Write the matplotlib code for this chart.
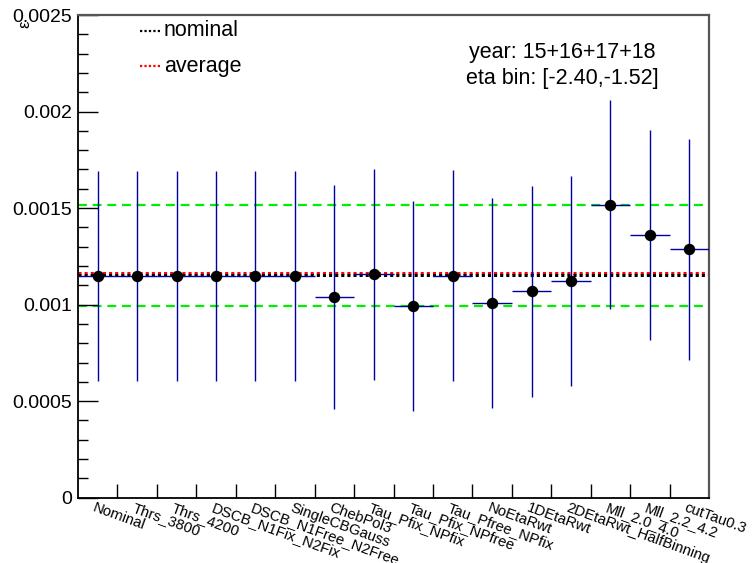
import matplotlib
matplotlib.use("Agg")
import matplotlib.pyplot as plt
import numpy as np
from matplotlib.ticker import MultipleLocator

plt.rcParams['font.family'] = ['Liberation Sans', 'DejaVu Sans']

categories = ["Nominal", "Thrs_3800", "Thrs_4200", "DSCB_N1Fix_N2Fix",
              "DSCB_N1Free_N2Free", "SingleCBGauss", "ChebPol3",
              "Tau_Pfix_NPfix", "Tau_Pfix_NPfree", "Tau_Pfree_NPfix",
              "NoEtaRwt", "1DEtaRwt", "2DEtaRwt_HalfBinning",
              "Mll_2.0_4.0", "Mll_2.2_4.2", "cutTau0.3"]
values = [0.001150, 0.001150, 0.001150, 0.001150, 0.001150, 0.001150,
          0.001038, 0.001158, 0.000994, 0.001150, 0.001008, 0.001068,
          0.001122, 0.001517, 0.001359, 0.001286]
errors = [0.000543, 0.000543, 0.000543, 0.000543, 0.000543, 0.000543,
          0.000580, 0.000546, 0.000545, 0.000546, 0.000544, 0.000544,
          0.000545, 0.000541, 0.000543, 0.000573]
nominal_value = 0.001152
average_value = 0.001162
max_value = 0.001517
min_value = 0.000994
ytick_values = [0, 0.0005, 0.001, 0.0015, 0.002, 0.0025]
ytick_labels = ["0", "0.0005", "0.001", "0.0015", "0.002", "0.0025"]
info_lines = ["year: 15+16+17+18", "eta bin: [-2.40,-1.52]"]
legend_labels = ["nominal", "average"]

W, H = 752, 563
fig = plt.figure(figsize=(W / 100, H / 100), dpi=100)
ax = fig.add_axes([78 / W, 1 - 497.7 / H, 631 / W, 482.7 / H])

n = len(categories)
centers = np.arange(n) + 0.5

# reference lines
ax.axhline(max_value, color='#00ee00', lw=1.6, ls=(0, (4, 2.6)), zorder=1)
ax.axhline(min_value, color='#00ee00', lw=1.6, ls=(0, (4, 2.6)), zorder=1)
ax.axhline(average_value, color='#ff0000', lw=2.2, ls=(0, (1, 1)), zorder=2)
ax.axhline(nominal_value, color='black', lw=2.2, ls=(0, (1, 1)), zorder=2)

ax.errorbar(centers, values, yerr=errors, xerr=0.5, fmt='none',
            ecolor='#0000a0', elinewidth=1.0, capsize=0, zorder=3)
ax.plot(centers, values, 'o', color='black', ms=7.2, zorder=4)

ax.set_xlim(0, n)
ax.set_ylim(0, 0.0025)

# ticks
ax.set_yticks(ytick_values)
ax.set_yticklabels(ytick_labels, fontsize=14)
ax.yaxis.set_minor_locator(MultipleLocator(0.0001))
ax.tick_params(axis='y', which='major', direction='in', length=14.4, width=1.0, pad=4)
ax.tick_params(axis='y', which='minor', direction='in', length=7.2, width=1.0)
ax.set_xticks(np.arange(1, n))
ax.set_xticklabels([])
ax.tick_params(axis='x', which='major', direction='in', length=10, width=1.0)
ax.tick_params(top=False, right=False)

for i, lab in enumerate(categories):
    ax.text(centers[i] - 0.05, -0.006, lab, transform=ax.get_xaxis_transform(),
            rotation=-20, rotation_mode='anchor', ha='left', va='top', fontsize=10.7)

for side in ['left', 'bottom']:
    ax.spines[side].set_color('black')
    ax.spines[side].set_linewidth(1.3)
for side in ['top', 'right']:
    ax.spines[side].set_color('#555555')
    ax.spines[side].set_linewidth(1.6)

# legend (manual)
ax.plot([0.098, 0.133], [0.967, 0.967], transform=ax.transAxes, color='black',
        lw=1.6, ls=(0, (1, 1)))
ax.plot([0.098, 0.133], [0.894, 0.894], transform=ax.transAxes, color='#ff0000',
        lw=1.6, ls=(0, (1, 1)))
ax.text(0.136, 0.967, legend_labels[0], transform=ax.transAxes, fontsize=15.5,
        ha='left', va='center')
ax.text(0.136, 0.894, legend_labels[1], transform=ax.transAxes, fontsize=15.5,
        ha='left', va='center')

ax.text(0.767, 0.923, info_lines[0], transform=ax.transAxes, fontsize=15.5,
        ha='center', va='center')
ax.text(0.767, 0.869, info_lines[1], transform=ax.transAxes, fontsize=15.5,
        ha='center', va='center')

# y-axis title glyph
fig.text(25 / W, 1 - 24 / H, "ε", rotation=90, fontsize=12, ha='center', va='center')

fig.savefig("out.png", dpi=100)
